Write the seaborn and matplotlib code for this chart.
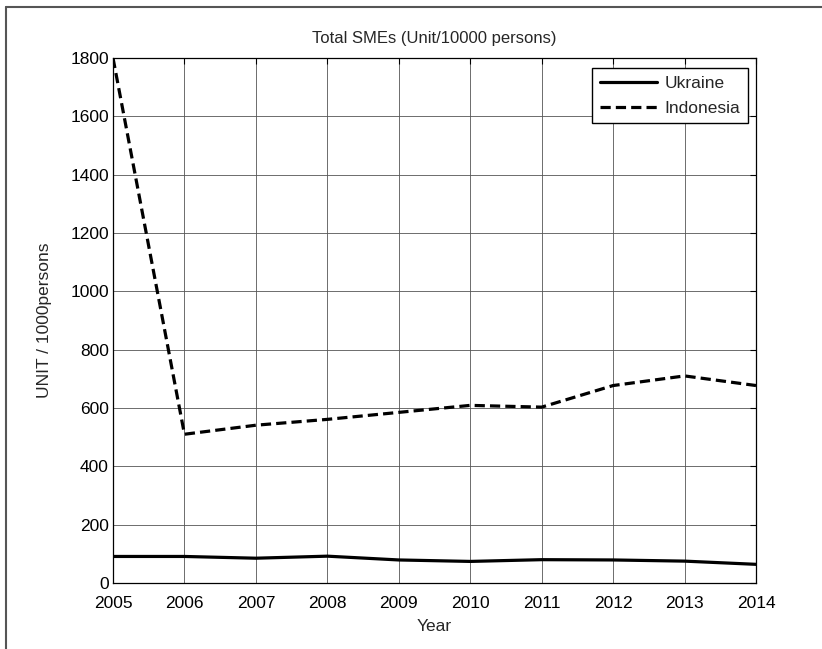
import matplotlib
matplotlib.use("Agg")
import matplotlib.pyplot as plt
import seaborn as sns
import pandas as pd
from matplotlib.lines import Line2D

years = [2005, 2006, 2007, 2008, 2009, 2010, 2011, 2012, 2013, 2014]
ukraine = [91, 91, 85, 92, 79, 74, 80, 79, 75, 64]
indonesia = [1800, 510, 541, 561, 585, 609, 603, 677, 710, 677]
countries = ["Ukraine", "Indonesia"]
yticks = [0, 200, 400, 600, 800, 1000, 1200, 1400, 1600, 1800]

df = pd.DataFrame({
    "Year": years * 2,
    "Value": ukraine + indonesia,
    "Country": ["Ukraine"] * len(years) + ["Indonesia"] * len(years),
})

sns.set_style("white")
plt.rcParams["font.family"] = ["Liberation Sans", "DejaVu Sans"]

fig = plt.figure(figsize=(8.22, 6.49), dpi=100)
ax = fig.add_axes([113 / 822, 1 - 583 / 649, 643 / 822, 525 / 649])

sns.lineplot(
    data=df, x="Year", y="Value", style="Country", style_order=countries,
    dashes=[(), (3.2, 1.6)], color="black", linewidth=2.3, ax=ax,
    legend=False,
)

ax.set_xlim(2005, 2014)
ax.set_ylim(0, 1800)
ax.set_xticks(years)
ax.set_yticks(yticks)
ax.grid(True, color="#555555", linewidth=0.6)
ax.set_axisbelow(True)
ax.tick_params(direction="in", length=4, width=0.8, top=True, right=True,
               labelsize=12.5, colors="black")
ax.tick_params(axis="x", pad=9)
ax.tick_params(axis="y", pad=3)
for s in ax.spines.values():
    s.set_color("black")
    s.set_linewidth(0.9)

ax.set_xlabel("Year", fontsize=12.5, labelpad=6)
ax.set_ylabel("UNIT / 1000persons", fontsize=12.5, labelpad=13)
ax.set_title("Total SMEs (Unit/10000 persons)", fontsize=12, pad=11)

handles = [
    Line2D([], [], color="black", linewidth=2.3),
    Line2D([], [], color="black", linewidth=2.3, dashes=(3.2, 1.6)),
]
leg = ax.legend(handles, countries, loc="upper right", bbox_to_anchor=(748 / 822, 1 - 68 / 649),
                bbox_transform=fig.transFigure, fontsize=12.5, frameon=True,
                fancybox=False, edgecolor="black", framealpha=1,
                handlelength=3.3, handletextpad=0.4, borderpad=0.45,
                labelspacing=0.55, borderaxespad=0)
leg.get_frame().set_linewidth(1.0)

# outer frame lines (left and top)
fig.add_artist(Line2D([6 / 822, 6 / 822], [0, 1 - 7 / 649], transform=fig.transFigure,
                      color="#555555", linewidth=1.5))
fig.add_artist(Line2D([6 / 822, 1], [1 - 7 / 649, 1 - 7 / 649], transform=fig.transFigure,
                      color="#555555", linewidth=1.5))

fig.savefig("out.png", dpi=100)
